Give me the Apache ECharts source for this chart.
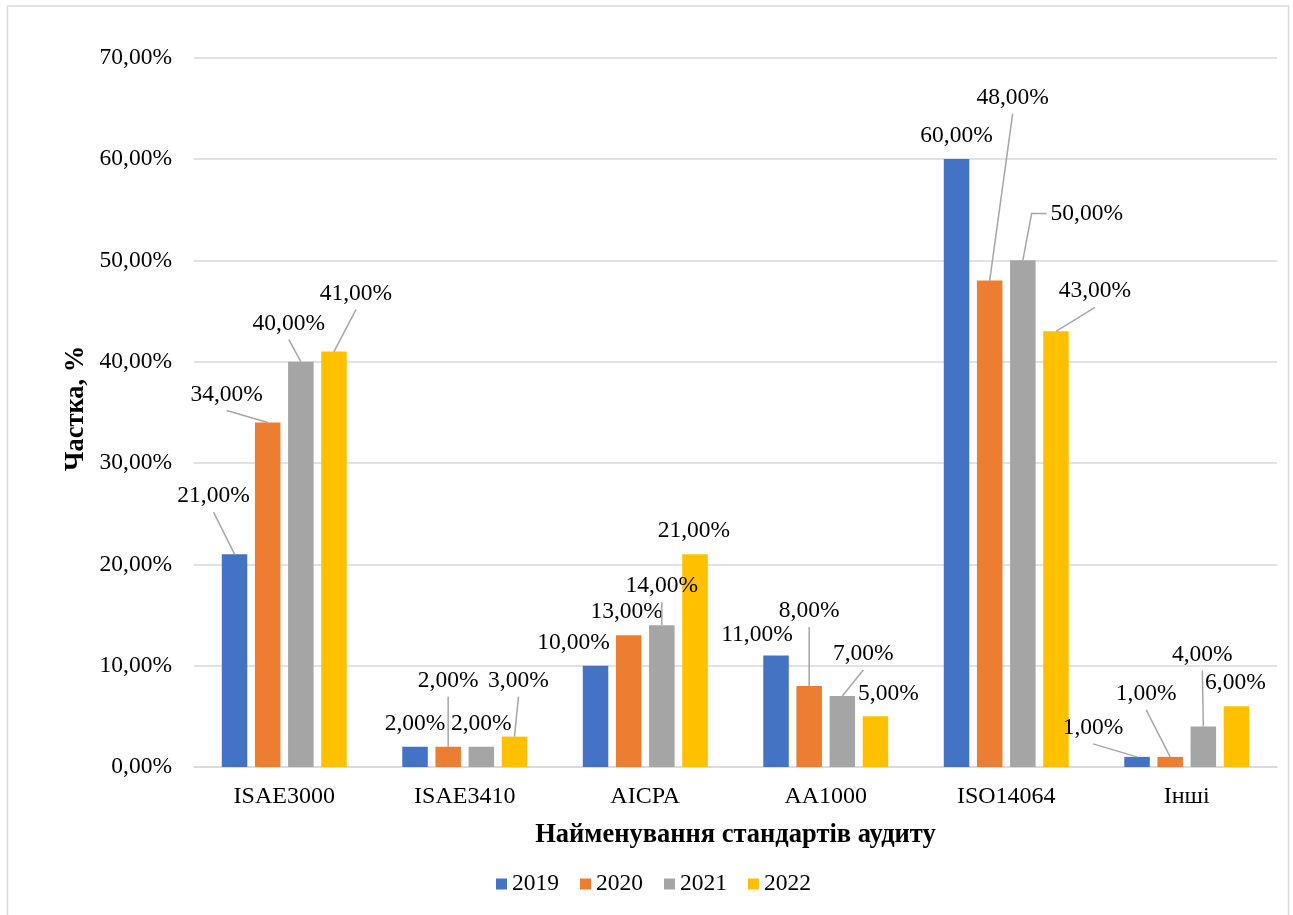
<!DOCTYPE html>
<html>
<head>
<meta charset="utf-8">
<script src="https://cdn.jsdelivr.net/npm/echarts@6/dist/echarts.min.js"></script>
<style>
  html, body { margin: 0; padding: 0; background: #fff; }
  #chart { width: 1293px; height: 915px; }
</style>
</head>
<body>
<div id="chart"></div>
<script>
const categories = ['ISAE3000', 'ISAE3410', 'AICPA', 'AA1000', 'ISO14064', 'Інші'];
const years = ['2019', '2020', '2021', '2022'];
const values2019 = [21, 2, 10, 11, 60, 1];
const values2020 = [34, 2, 13, 8, 48, 1];
const values2021 = [40, 2, 14, 7, 50, 4];
const values2022 = [41, 3, 21, 5, 43, 6];
const yTicks = [0, 10, 20, 30, 40, 50, 60, 70];

const colors = ['#4472C4', '#ED7D31', '#A5A5A5', '#FFC000'];
const font = 'Liberation Serif';
const labelSize = 23.5;
const labelPad = 4;
const labelDistance = 1;
const barWidth = 25.5;
const barGapRatio = 0.3;
const barPitch = barWidth * (1 + barGapRatio);

// зсув підписів від позиції 'top': [dx, dy, виноска] (0 - без лінії, 1 - пряма, 2 - з коліном)
const labelPlace = [
  [[-21, -41, 1], [0, -6, 0], [-22, -6, 0], [-19, -4, 0], [0, -6, 0], [-44, -12, 1]],
  [[-41, -11, 1], [0, -49, 1], [-2, -6, 0], [0, -58, 1], [23, -166, 1], [-24, -46, 1]],
  [[-12, -21, 1], [0, -6, 0], [0, -22, 1], [21, -25, 1], [64, -30, 2], [-1, -55, 1]],
  [[22, -41, 1], [4, -39, 1], [-1, -6, 0], [13, -6, 0], [39, -23, 1], [-1, -6, 0]]
];

const fmt = v => v.toFixed(2).replace('.', ',') + '%';

const measureCtx = document.createElement('canvas').getContext('2d');
measureCtx.font = labelSize + 'px "' + font + '"';
const textWidth = t => measureCtx.measureText(t).width;

const seriesValues = [values2019, values2020, values2021, values2022];

// виноски: [категорія, значення, ряд]
const leaders = [];
seriesValues.forEach((vals, s) => {
  vals.forEach((v, i) => {
    if (labelPlace[s][i][2] > 0) leaders.push([i, v, s]);
  });
});

const chart = echarts.init(document.getElementById('chart'));

const barSeries = years.map((y, s) => ({
  name: y,
  type: 'bar',
  barWidth: barWidth,
  barGap: (barGapRatio * 100) + '%',
  data: seriesValues[s],
  label: {
    show: true,
    position: 'top',
    distance: labelDistance,
    padding: labelPad,
    fontFamily: font,
    fontSize: labelSize,
    color: '#000',
    formatter: p => fmt(p.value)
  },
  labelLayout: p => {
    const o = labelPlace[p.seriesIndex][p.dataIndex];
    return { dx: o[0], dy: o[1] };
  }
}));

const leaderSeries = {
  type: 'custom',
  silent: true,
  z: 3,
  data: leaders,
  renderItem: (params, api) => {
    const i = api.value(0), v = api.value(1), s = api.value(2);
    const top = api.coord([i, v]);
    const bx = top[0] + (s - 1.5) * barPitch, by = top[1];
    const o = labelPlace[s][i];
    const lx = bx + o[0];
    const lBottom = by - labelDistance + o[1];
    let points;
    if (o[2] === 2) {
      const cy = lBottom - (labelSize + 2 * labelPad) / 2;
      const left = lx - textWidth(fmt(v)) / 2 - labelPad;
      points = [[bx, by], [left - 15, cy], [left, cy]];
    } else {
      points = [[bx, by], [lx, lBottom]];
    }
    return {
      type: 'polyline',
      shape: { points: points },
      style: { stroke: '#a6a6a6', lineWidth: 1.5, fill: null }
    };
  }
};

chart.setOption({
  animation: false,
  color: colors,
  textStyle: { fontFamily: font },
  graphic: [{
    type: 'rect',
    shape: { x: 7.5, y: 6, width: 1281, height: 930 },
    style: { fill: 'none', stroke: '#d9d9d9', lineWidth: 1.5 },
    silent: true
  }],
  grid: { left: 194, right: 16, top: 57.7, bottom: 148 },
  legend: {
    data: years,
    icon: 'rect',
    itemWidth: 11,
    itemHeight: 11,
    itemGap: 21,
    left: 491,
    top: 867,
    textStyle: { fontFamily: font, fontSize: 23.5, color: '#000' }
  },
  xAxis: {
    type: 'category',
    data: categories,
    axisTick: { show: false },
    axisLine: { lineStyle: { color: '#d9d9d9', width: 1.5 } },
    axisLabel: { fontFamily: font, fontSize: 24, color: '#000', margin: 18 },
    name: 'Найменування стандартів аудиту',
    nameLocation: 'middle',
    nameGap: 55,
    nameTextStyle: { fontFamily: font, fontSize: 26.5, fontWeight: 'bold', color: '#000' }
  },
  yAxis: {
    type: 'value',
    min: yTicks[0],
    max: yTicks[yTicks.length - 1],
    interval: yTicks[1] - yTicks[0],
    axisLine: { show: false },
    axisTick: { show: false },
    splitLine: { lineStyle: { color: '#d9d9d9', width: 1.5 } },
    axisLabel: { fontFamily: font, fontSize: 23.5, color: '#000', margin: 22, formatter: fmt },
    name: 'Частка, %',
    nameLocation: 'middle',
    nameGap: 104,
    nameMoveOverlap: false,
    nameTextStyle: { fontFamily: font, fontSize: 26.5, fontWeight: 'bold', color: '#000', padding: [10, 0, 0, 8] }
  },
  series: barSeries.concat([leaderSeries])
});
</script>
</body>
</html>
